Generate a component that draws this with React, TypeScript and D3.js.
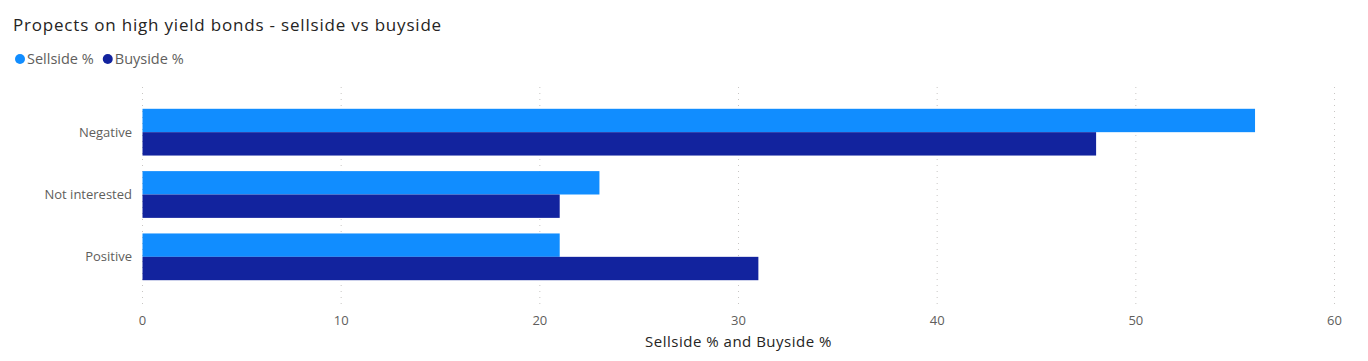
import React, { useRef, useEffect } from 'react';
import * as d3 from 'd3';

const categories = ['Negative', 'Not interested', 'Positive'];
const seriesNames = ['Sellside %', 'Buyside %'];
const sellside = [56, 23, 21];
const buyside = [48, 21, 31];
const xTicks = [0, 10, 20, 30, 40, 50, 60];

const colors = ['#118DFF', '#12239E'];
const FONT = "'Segoe UI', 'Open Sans', sans-serif";

const App: React.FC = () => {
  const ref = useRef<SVGSVGElement | null>(null);

  useEffect(() => {
    const width = 1368;
    const height = 361;
    const svg = d3.select(ref.current);
    svg.selectAll('*').remove();
    svg.attr('width', width).attr('height', height);

    const x = d3.scaleLinear().domain([0, 60]).range([142.5, 1334.5]);
    const y = d3.scaleBand<string>().domain(categories).range([101, 288])
      .paddingInner(0.25).paddingOuter(0.125);
    const sub = d3.scaleBand<string>().domain(seriesNames).range([0, y.bandwidth()]);

    // title
    svg.append('text')
      .attr('x', 13).attr('y', 31)
      .attr('font-family', FONT).attr('font-size', 17)
      .attr('letter-spacing', 0.8)
      .attr('fill', '#252423')
      .text('Propects on high yield bonds - sellside vs buyside');

    // legend
    let lx = 20;
    seriesNames.forEach((name, i) => {
      svg.append('circle').attr('cx', lx).attr('cy', 59).attr('r', 5).attr('fill', colors[i]);
      const t = svg.append('text')
        .attr('x', lx + 7).attr('y', 64)
        .attr('font-family', FONT).attr('font-size', 14.5)
        .attr('fill', '#605E5C')
        .text(name);
      const w = (t.node() as SVGTextElement).getComputedTextLength();
      lx += 7 + w + 14;
    });

    // grid
    svg.append('g').selectAll('line').data(xTicks).join('line')
      .attr('x1', (d) => x(d)).attr('x2', (d) => x(d))
      .attr('y1', 87).attr('y2', 308)
      .attr('stroke', '#C8C6C4').attr('stroke-width', 1)
      .attr('stroke-dasharray', '1,5');

    // bars
    const data = [sellside, buyside];
    seriesNames.forEach((name, si) => {
      svg.append('g').selectAll('rect').data(categories).join('rect')
        .attr('x', x(0))
        .attr('y', (c) => (y(c) ?? 0) + (sub(name) ?? 0))
        .attr('width', (c, i) => x(data[si][i]) - x(0))
        .attr('height', sub.bandwidth())
        .attr('fill', colors[si]);
    });

    // category labels
    svg.append('g').selectAll('text').data(categories).join('text')
      .attr('x', 132)
      .attr('y', (c) => (y(c) ?? 0) + y.bandwidth() / 2)
      .attr('dy', '0.35em')
      .attr('text-anchor', 'end')
      .attr('font-family', FONT).attr('font-size', 13)
      .attr('fill', '#605E5C')
      .text((c) => c);

    // x tick labels
    svg.append('g').selectAll('text').data(xTicks).join('text')
      .attr('x', (d) => x(d)).attr('y', 325)
      .attr('text-anchor', 'middle')
      .attr('font-family', FONT).attr('font-size', 13)
      .attr('fill', '#605E5C')
      .text((d) => String(d));

    // axis title
    svg.append('text')
      .attr('x', (x(0) + x(60)) / 2).attr('y', 347)
      .attr('text-anchor', 'middle')
      .attr('font-family', FONT).attr('font-size', 15)
      .attr('letter-spacing', 0.5)
      .attr('fill', '#252423')
      .text('Sellside % and Buyside %');
  }, []);

  return <svg ref={ref} style={{ position: 'absolute', left: 0, top: 0 }} />;
};

export default App;
